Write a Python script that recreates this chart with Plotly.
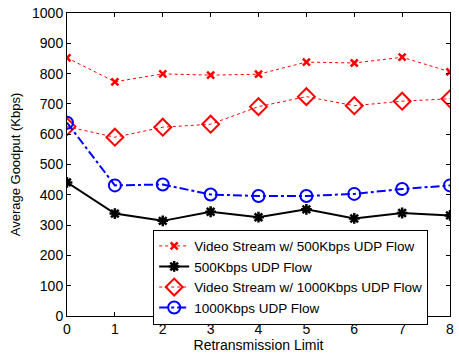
import plotly.graph_objects as go

x = [0, 1, 2, 3, 4, 5, 6, 7, 8]
video_500 = [852, 773, 799, 795, 798, 838, 835, 854, 806]
udp_500 = [441, 338, 314, 344, 326, 352, 322, 340, 332]
video_1000 = [625, 590, 623, 633, 691, 724, 694, 709, 717]
udp_1000 = [638, 431, 434, 401, 396, 396, 403, 419, 431]

names = ["Video Stream w/ 500Kbps UDP Flow", "500Kbps UDP Flow",
         "Video Stream w/ 1000Kbps UDP Flow", "1000Kbps UDP Flow"]

fig = go.Figure()
fig.add_trace(go.Scatter(x=x, y=video_500, name=names[0], mode="lines+markers",
                         line=dict(color="red", width=1, dash="dot"),
                         marker=dict(symbol="x-thin", size=7, color="red",
                                     line=dict(color="red", width=2.5))))
fig.add_trace(go.Scatter(x=x, y=udp_500, name=names[1], mode="lines+markers",
                         line=dict(color="black", width=2),
                         marker=dict(symbol="asterisk", size=9, color="black",
                                     line=dict(color="black", width=2.5))))
fig.add_trace(go.Scatter(x=x, y=video_1000, name=names[2], mode="lines+markers",
                         line=dict(color="red", width=1, dash="dot"),
                         marker=dict(symbol="diamond-open", size=13, color="red",
                                     line=dict(color="red", width=2))))
fig.add_trace(go.Scatter(x=x, y=udp_1000, name=names[3], mode="lines+markers",
                         line=dict(color="blue", width=2, dash="dashdot"),
                         marker=dict(symbol="circle-open", size=12, color="blue",
                                     line=dict(color="blue", width=2))))

axis_common = dict(showline=True, linecolor="black", linewidth=1, mirror="ticks",
                   ticks="inside", ticklen=4, tickcolor="black", showgrid=False,
                   zeroline=False, tickfont=dict(size=14, color="black"))

fig.update_xaxes(range=[0, 8], dtick=1, title=dict(text="Retransmission Limit",
                 font=dict(size=14, color="black"), standoff=0), **axis_common)
fig.update_yaxes(range=[0, 1000], dtick=100, title=dict(text="Average Goodput (Kbps)",
                 font=dict(size=13, color="black"), standoff=8), **axis_common)

fig.update_layout(
    width=459, height=354,
    margin=dict(l=67, r=5, t=12, b=38),
    paper_bgcolor="white", plot_bgcolor="white",
    font=dict(family="Liberation Sans, Arial, sans-serif", color="black"),
    legend=dict(x=0.225, y=0.285, xanchor="left", yanchor="top",
                bordercolor="black", borderwidth=1, bgcolor="white",
                font=dict(size=13.5), tracegroupgap=0, itemwidth=30),
    showlegend=True,
)

fig.write_html("out.html")
